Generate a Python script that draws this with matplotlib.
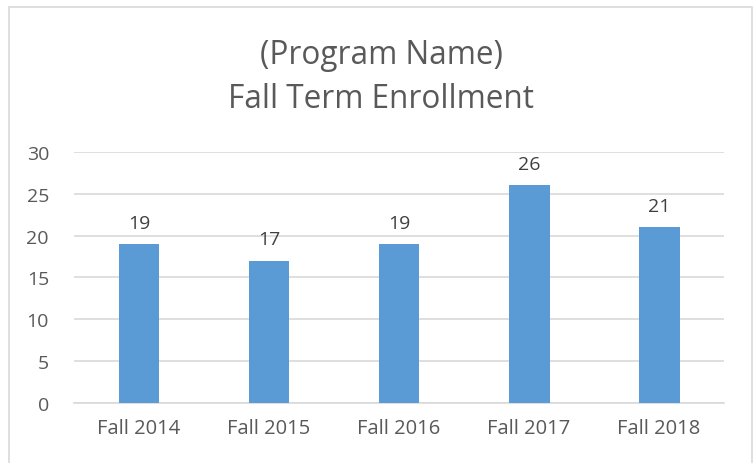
import matplotlib.pyplot as plt
from matplotlib.patches import Rectangle

# data
terms = ["Fall 2014", "Fall 2015", "Fall 2016", "Fall 2017", "Fall 2018"]
enrollment = [19, 17, 19, 26, 21]
title_lines = ["(Program Name)", "Fall Term Enrollment"]

plt.rcParams['font.family'] = ['Open Sans', 'DejaVu Sans']

fig = plt.figure(figsize=(7.55, 4.64), dpi=100)
ax = fig.add_axes([0.098, 0.1293, 0.861, 0.541])

# light chart-area border like Excel
fig.patches.append(Rectangle((9 / 755, -0.01), 743 / 755, 1 - 8 / 464 + 0.01,
                             transform=fig.transFigure, fill=False,
                             edgecolor='#D9D9D9', linewidth=1.2))

x = range(len(terms))
bars = ax.bar(x, enrollment, width=0.315, color='#5B9BD5', zorder=3)

for b, v in zip(bars, enrollment):
    ax.annotate(str(v), (b.get_x() + b.get_width() / 2, v),
                xytext=(0, 9), textcoords='offset points',
                ha='center', va='bottom', fontsize=14, color='#404040')

ax.set_xlim(-0.5, len(terms) - 0.5)
ax.set_ylim(0, 30)
ax.set_yticks(range(0, 31, 5))
ax.set_xticks(list(x))
ax.set_xticklabels(terms)
ax.tick_params(axis='both', length=0, labelsize=14, labelcolor='#595959')
ax.tick_params(axis='x', labelsize=14.5, pad=11)
ax.tick_params(axis='y', pad=18)

ax.grid(axis='y', color='#D9D9D9', linewidth=1.2, zorder=0)
for side in ['top', 'right', 'left']:
    ax.spines[side].set_visible(False)
ax.spines['bottom'].set_color('#D9D9D9')
ax.spines['bottom'].set_linewidth(1.2)

fig.text(381 / 755, 1 - 56 / 464, title_lines[0], ha='center', va='center',
         fontsize=22.7, color='#595959')
fig.text(381 / 755, 1 - 99 / 464, title_lines[1], ha='center', va='center',
         fontsize=22.7, color='#595959')

fig.savefig('out.png', dpi=100)
